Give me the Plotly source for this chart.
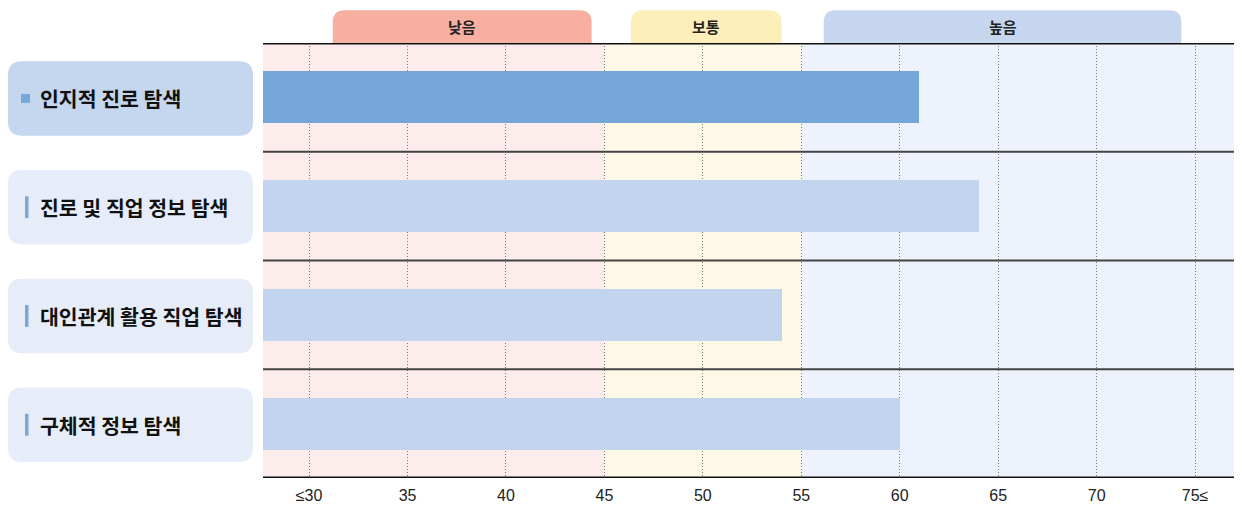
import plotly.graph_objects as go

categories = ["인지적 진로 탐색", "진로 및 직업 정보 탐색", "대인관계 활용 직업 탐색", "구체적 정보 탐색"]
values = [61, 64, 54, 60]
tick_vals = [30, 35, 40, 45, 50, 55, 60, 65, 70, 75]
tick_text = ["≤30", "35", "40", "45", "50", "55", "60", "65", "70", "75≤"]
zone_names = ["낮음", "보통", "높음"]
zone_bounds = [45, 55]
highlight_index = 0

# style (page body has an 8px margin, so the figure is offset by 8px)
OFF = 8
W, H = 1242 - OFF, 508 - OFF
ML, MR, MT, MB = 263 - OFF, 4, 43 - OFF, 27
PW, PH = W - ML - MR, H - MT - MB
XR = [27.66, 77.18]
FONT_KR = "Noto Sans CJK KR"
zone_bg = ["#FCEDEC", "#FEF8E7", "#EDF2FC"]
tab_colors = ["#F7AFA2", "#FDEFBA", "#C7D6EF"]
tab_spans = [(31.2, 44.35), (46.35, 54.0), (56.14, 74.3)]
bar_hi, bar_lo = "#74A7D7", "#C2D4EE"
box_hi, box_lo = "#C5D6EF", "#E7EDF8"
mark_col = "#7AA7DA"

n = len(categories)
ys = list(range(n))
ux = (XR[1] - XR[0]) / PW  # data units per px


def px_x(p):
    """page x pixel -> paper x"""
    return (p - 263) / PW


fig = go.Figure()
fig.add_trace(go.Bar(
    x=values, y=ys, orientation="h", width=0.48,
    marker=dict(color=[bar_hi if i == highlight_index else bar_lo for i in ys], line=dict(width=0)),
    hoverinfo="x", showlegend=False,
))

shapes = []
annots = []
edges = [XR[0]] + zone_bounds + [XR[1]]
for i in range(3):
    shapes.append(dict(type="rect", xref="x", yref="paper", x0=edges[i], x1=edges[i + 1], y0=0, y1=1,
                       fillcolor=zone_bg[i], line=dict(width=0), layer="below"))

ty0, ty1 = 1.0, 1 + 33 / PH
rx, ry = 12 * ux, 12 / PH
for (a, b), c, name in zip(tab_spans, tab_colors, zone_names):
    path = (f"M {a},{ty0} L {a},{ty1 - ry} Q {a},{ty1} {a + rx},{ty1} "
            f"L {b - rx},{ty1} Q {b},{ty1} {b},{ty1 - ry} L {b},{ty0} Z")
    shapes.append(dict(type="path", xref="x", yref="paper", path=path, fillcolor=c, line=dict(width=0)))
    annots.append(dict(x=(a + b) / 2, y=(ty0 + ty1) / 2, xref="x", yref="paper", text=f"<b>{name}</b>",
                       showarrow=False, font=dict(family=FONT_KR, size=15, color="#222"),
                       xanchor="center", yanchor="middle"))

for k in range(n + 1):
    yv = k - 0.5
    thick = k == 0 or k == n
    shapes.append(dict(type="line", xref="paper", yref="y", x0=0, x1=1, y0=yv, y1=yv,
                       line=dict(color="#111" if thick else "#444", width=3 if thick else 2)))

row_px = PH / n
bx0, bx1 = px_x(8), px_x(253)
hh = 37.5 / row_px
brx, bry = 14 / PW, 14 / row_px
for i, cat in enumerate(categories):
    c = i + 0.01
    y0, y1 = c - hh, c + hh
    path = (f"M {bx0 + brx},{y0} L {bx1 - brx},{y0} Q {bx1},{y0} {bx1},{y0 + bry} "
            f"L {bx1},{y1 - bry} Q {bx1},{y1} {bx1 - brx},{y1} L {bx0 + brx},{y1} "
            f"Q {bx0},{y1} {bx0},{y1 - bry} L {bx0},{y0 + bry} Q {bx0},{y0} {bx0 + brx},{y0} Z")
    shapes.append(dict(type="path", xref="paper", yref="y", path=path,
                       fillcolor=box_hi if i == highlight_index else box_lo, line=dict(width=0)))
    if i == highlight_index:
        shapes.append(dict(type="rect", xref="paper", yref="y",
                           x0=px_x(21), x1=px_x(30), y0=c - 4.5 / row_px, y1=c + 4.5 / row_px,
                           fillcolor=mark_col, line=dict(width=0)))
    else:
        shapes.append(dict(type="rect", xref="paper", yref="y",
                           x0=px_x(25), x1=px_x(28.5), y0=c - 11 / row_px, y1=c + 11 / row_px,
                           fillcolor=mark_col, line=dict(width=0)))
    annots.append(dict(x=px_x(38), y=c, xref="paper", yref="y", text=f"<b>{cat}</b>", showarrow=False,
                       xanchor="left", yanchor="middle",
                       font=dict(family=FONT_KR, size=20.5, color="#111")))

fig.update_layout(
    width=W, height=H, margin=dict(l=ML, r=MR, t=MT, b=MB),
    paper_bgcolor="white", plot_bgcolor="rgba(0,0,0,0)",
    shapes=shapes, annotations=annots, bargap=0,
    xaxis=dict(range=XR, tickvals=tick_vals, ticktext=tick_text, showgrid=True, griddash="1px,2px",
               gridcolor="#777", gridwidth=1, zeroline=False, showline=False,
               ticks="outside", ticklen=3, tickcolor="rgba(0,0,0,0)",
               tickfont=dict(family="Liberation Sans Narrow, Liberation Sans, Arial", size=16, color="#222"),
               fixedrange=True),
    yaxis=dict(range=[n - 0.5, -0.5], showticklabels=False, showgrid=False, zeroline=False,
               showline=False, ticks="", fixedrange=True),
)

fig.write_html("out.html")
